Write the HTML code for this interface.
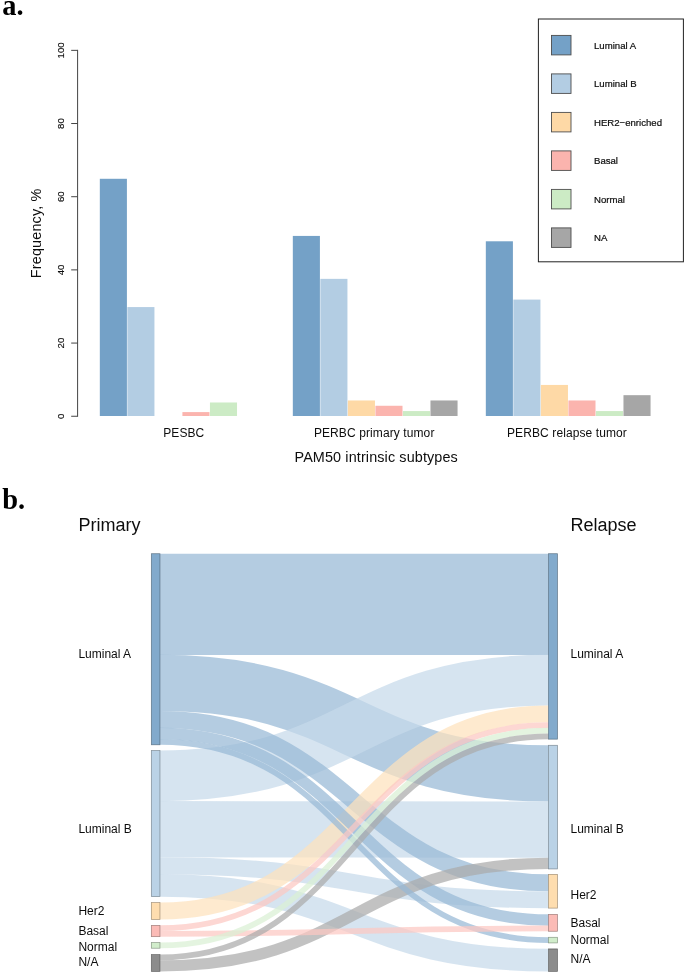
<!DOCTYPE html>
<html lang="en"><head><meta charset="utf-8"><title>PAM50 intrinsic subtypes</title>
<style>html,body{margin:0;padding:0;background:#fff;}svg{display:block;}text{font-family:"Liberation Sans", sans-serif;fill:#0d0d0d;}#wrap{width:685px;height:975px;will-change:transform;overflow:hidden;}</style>
</head><body><div id="wrap">
<svg width="685" height="975" viewBox="0 0 685 975">
<rect width="685" height="975" fill="#ffffff"/>
<text x="2.3" y="15.2" style="font-family:'Liberation Serif', serif;font-weight:bold;font-size:28.4px;fill:#000">a.</text>
<text x="2.3" y="508.5" style="font-family:'Liberation Serif', serif;font-weight:bold;font-size:28.4px;fill:#000">b.</text>
<g shape-rendering="auto">
<rect x="99.82" y="178.79" width="27.09" height="237.21" fill="#74A1C7"/>
<rect x="127.35" y="307.08" width="27.09" height="108.92" fill="#B3CDE3"/>
<rect x="182.41" y="412.09" width="27.09" height="3.91" fill="#FBB4AE"/>
<rect x="209.94" y="402.48" width="27.09" height="13.52" fill="#CCEBC5"/>
<rect x="292.82" y="235.92" width="27.09" height="180.08" fill="#74A1C7"/>
<rect x="320.35" y="278.86" width="27.09" height="137.14" fill="#B3CDE3"/>
<rect x="347.88" y="400.47" width="27.09" height="15.53" fill="#FED9A6"/>
<rect x="375.41" y="405.77" width="27.09" height="10.23" fill="#FBB4AE"/>
<rect x="402.94" y="411.07" width="27.09" height="4.93" fill="#CCEBC5"/>
<rect x="430.47" y="400.47" width="27.09" height="15.53" fill="#A6A6A6"/>
<rect x="485.82" y="241.29" width="27.09" height="174.71" fill="#74A1C7"/>
<rect x="513.35" y="299.59" width="27.09" height="116.41" fill="#B3CDE3"/>
<rect x="540.88" y="384.93" width="27.09" height="31.07" fill="#FED9A6"/>
<rect x="568.41" y="400.47" width="27.09" height="15.53" fill="#FBB4AE"/>
<rect x="595.94" y="411.07" width="27.09" height="4.93" fill="#CCEBC5"/>
<rect x="623.47" y="395.17" width="27.09" height="20.83" fill="#A6A6A6"/>
</g>
<g stroke="#444" stroke-width="1" fill="none">
<path d="M77.6 49.85 V416.75"/>
<path d="M71.2 416.25 H77.6"/>
<path d="M71.2 343.07 H77.6"/>
<path d="M71.2 269.89 H77.6"/>
<path d="M71.2 196.71 H77.6"/>
<path d="M71.2 123.53 H77.6"/>
<path d="M71.2 50.35 H77.6"/>
</g>
<text transform="translate(64.2 416.25) rotate(-90)" text-anchor="middle" style="font-size:9.7px;stroke:#0d0d0d;stroke-width:0.15px">0</text>
<text transform="translate(64.2 343.07) rotate(-90)" text-anchor="middle" style="font-size:9.7px;stroke:#0d0d0d;stroke-width:0.15px">20</text>
<text transform="translate(64.2 269.89) rotate(-90)" text-anchor="middle" style="font-size:9.7px;stroke:#0d0d0d;stroke-width:0.15px">40</text>
<text transform="translate(64.2 196.71) rotate(-90)" text-anchor="middle" style="font-size:9.7px;stroke:#0d0d0d;stroke-width:0.15px">60</text>
<text transform="translate(64.2 123.53) rotate(-90)" text-anchor="middle" style="font-size:9.7px;stroke:#0d0d0d;stroke-width:0.15px">80</text>
<text transform="translate(64.2 50.35) rotate(-90)" text-anchor="middle" style="font-size:9.7px;stroke:#0d0d0d;stroke-width:0.15px">100</text>
<text transform="translate(40.5 233.3) rotate(-90)" text-anchor="middle" style="font-size:14.4px;letter-spacing:0.17px">Frequency, %</text>
<text x="183.8" y="436.8" text-anchor="middle" style="font-size:12px;letter-spacing:0.1px">PESBC</text>
<text x="374.2" y="436.8" text-anchor="middle" style="font-size:12px;letter-spacing:0.1px">PERBC primary tumor</text>
<text x="567.0" y="436.8" text-anchor="middle" style="font-size:12px;letter-spacing:0.1px">PERBC relapse tumor</text>
<text x="376.2" y="461.7" text-anchor="middle" style="font-size:14.4px;letter-spacing:0.12px">PAM50 intrinsic subtypes</text>
<rect x="538.4" y="19" width="145" height="242.8" fill="#fff" stroke="#222" stroke-width="1"/>
<rect x="551.5" y="35.40" width="19.5" height="19.5" fill="#74A1C7" stroke="#4d4d4d" stroke-width="0.9"/>
<text x="594" y="48.65" style="font-size:9.6px;stroke:#0d0d0d;stroke-width:0.2px">Luminal A</text>
<rect x="551.5" y="73.90" width="19.5" height="19.5" fill="#B3CDE3" stroke="#4d4d4d" stroke-width="0.9"/>
<text x="594" y="87.15" style="font-size:9.6px;stroke:#0d0d0d;stroke-width:0.2px">Luminal B</text>
<rect x="551.5" y="112.40" width="19.5" height="19.5" fill="#FED9A6" stroke="#4d4d4d" stroke-width="0.9"/>
<text x="594" y="125.65" style="font-size:9.6px;stroke:#0d0d0d;stroke-width:0.2px">HER2−enriched</text>
<rect x="551.5" y="150.90" width="19.5" height="19.5" fill="#FBB4AE" stroke="#4d4d4d" stroke-width="0.9"/>
<text x="594" y="164.15" style="font-size:9.6px;stroke:#0d0d0d;stroke-width:0.2px">Basal</text>
<rect x="551.5" y="189.40" width="19.5" height="19.5" fill="#CCEBC5" stroke="#4d4d4d" stroke-width="0.9"/>
<text x="594" y="202.65" style="font-size:9.6px;stroke:#0d0d0d;stroke-width:0.2px">Normal</text>
<rect x="551.5" y="227.90" width="19.5" height="19.5" fill="#A6A6A6" stroke="#4d4d4d" stroke-width="0.9"/>
<text x="594" y="241.15" style="font-size:9.6px;stroke:#0d0d0d;stroke-width:0.2px">NA</text>
<text x="78.5" y="530.7" style="font-size:18px">Primary</text>
<text x="570.5" y="530.7" style="font-size:18px">Relapse</text>
<g fill="none" stroke-opacity="0.72">
<path d="M159.95 604.28 C354.23 604.28 354.23 604.28 548.50 604.28" stroke="#97b8d5" stroke-width="101.26"/>
<path d="M159.95 682.96 C354.23 682.96 354.23 773.40 548.50 773.40" stroke="#97b8d5" stroke-width="56.30"/>
<path d="M159.95 829.18 C354.23 829.18 354.23 829.60 548.50 829.60" stroke="#c6daea" stroke-width="56.30"/>
<path d="M159.95 775.79 C354.23 775.79 354.23 680.15 548.50 680.15" stroke="#c6daea" stroke-width="50.68"/>
<path d="M159.95 885.38 C354.23 885.38 354.23 960.14 548.50 960.14" stroke="#c6daea" stroke-width="22.58"/>
<path d="M159.95 719.49 C354.23 719.49 354.23 882.83 548.50 882.83" stroke="#97b8d5" stroke-width="16.96"/>
<path d="M159.95 865.71 C354.23 865.71 354.23 899.69 548.50 899.69" stroke="#c6daea" stroke-width="16.96"/>
<path d="M159.95 911.03 C354.23 911.03 354.23 713.87 548.50 713.87" stroke="#fee2bc" stroke-width="16.96"/>
<path d="M159.95 733.54 C354.23 733.54 354.23 920.02 548.50 920.02" stroke="#97b8d5" stroke-width="11.34"/>
<path d="M159.95 965.84 C354.23 965.84 354.23 863.32 548.50 863.32" stroke="#aaaaaa" stroke-width="11.34"/>
<path d="M159.95 741.97 C354.23 741.97 354.23 940.11 548.50 940.11" stroke="#97b8d5" stroke-width="5.72"/>
<path d="M159.95 928.21 C354.23 928.21 354.23 725.11 548.50 725.11" stroke="#fcc7c2" stroke-width="5.72"/>
<path d="M159.95 933.83 C354.23 933.83 354.23 928.45 548.50 928.45" stroke="#fcc7c2" stroke-width="5.72"/>
<path d="M159.95 945.41 C354.23 945.41 354.23 730.73 548.50 730.73" stroke="#d9f0d4" stroke-width="5.72"/>
<path d="M159.95 957.41 C354.23 957.41 354.23 736.35 548.50 736.35" stroke="#aaaaaa" stroke-width="5.72"/>
</g>
<rect x="151.35" y="553.70" width="8.60" height="191.08" fill="#74A1C7" fill-opacity="0.9" stroke="#384e61" stroke-opacity="0.65" stroke-width="0.75"/>
<rect x="548.50" y="553.70" width="9.00" height="185.46" fill="#74A1C7" fill-opacity="0.9" stroke="#384e61" stroke-opacity="0.65" stroke-width="0.75"/>
<rect x="151.35" y="750.50" width="8.60" height="146.12" fill="#B3CDE3" fill-opacity="0.9" stroke="#57646f" stroke-opacity="0.65" stroke-width="0.75"/>
<rect x="548.50" y="745.30" width="9.00" height="123.64" fill="#B3CDE3" fill-opacity="0.9" stroke="#57646f" stroke-opacity="0.65" stroke-width="0.75"/>
<rect x="151.35" y="902.60" width="8.60" height="16.86" fill="#FED9A6" fill-opacity="0.9" stroke="#7c6a51" stroke-opacity="0.65" stroke-width="0.75"/>
<rect x="548.50" y="874.40" width="9.00" height="33.72" fill="#FED9A6" fill-opacity="0.9" stroke="#7c6a51" stroke-opacity="0.65" stroke-width="0.75"/>
<rect x="151.35" y="925.40" width="8.60" height="11.24" fill="#FBB4AE" fill-opacity="0.9" stroke="#7a5855" stroke-opacity="0.65" stroke-width="0.75"/>
<rect x="548.50" y="914.40" width="9.00" height="16.86" fill="#FBB4AE" fill-opacity="0.9" stroke="#7a5855" stroke-opacity="0.65" stroke-width="0.75"/>
<rect x="151.35" y="942.60" width="8.60" height="5.62" fill="#CCEBC5" fill-opacity="0.9" stroke="#637360" stroke-opacity="0.65" stroke-width="0.75"/>
<rect x="548.50" y="937.30" width="9.00" height="5.62" fill="#CCEBC5" fill-opacity="0.9" stroke="#637360" stroke-opacity="0.65" stroke-width="0.75"/>
<rect x="151.35" y="954.60" width="8.60" height="16.86" fill="#808080" fill-opacity="0.9" stroke="#3e3e3e" stroke-opacity="0.65" stroke-width="0.75"/>
<rect x="548.50" y="948.90" width="9.00" height="22.48" fill="#808080" fill-opacity="0.9" stroke="#3e3e3e" stroke-opacity="0.65" stroke-width="0.75"/>
<text x="78.4" y="657.70" style="font-size:12px">Luminal A</text>
<text x="570.5" y="658.00" style="font-size:12px">Luminal A</text>
<text x="78.4" y="833.00" style="font-size:12px">Luminal B</text>
<text x="570.5" y="833.00" style="font-size:12px">Luminal B</text>
<text x="78.4" y="914.60" style="font-size:12px">Her2</text>
<text x="570.5" y="898.80" style="font-size:12px">Her2</text>
<text x="78.4" y="935.00" style="font-size:12px">Basal</text>
<text x="570.5" y="927.10" style="font-size:12px">Basal</text>
<text x="78.4" y="951.00" style="font-size:12px">Normal</text>
<text x="570.5" y="944.15" style="font-size:12px">Normal</text>
<text x="78.4" y="966.00" style="font-size:12px">N/A</text>
<text x="570.5" y="963.30" style="font-size:12px">N/A</text>
</svg>
</div></body></html>
